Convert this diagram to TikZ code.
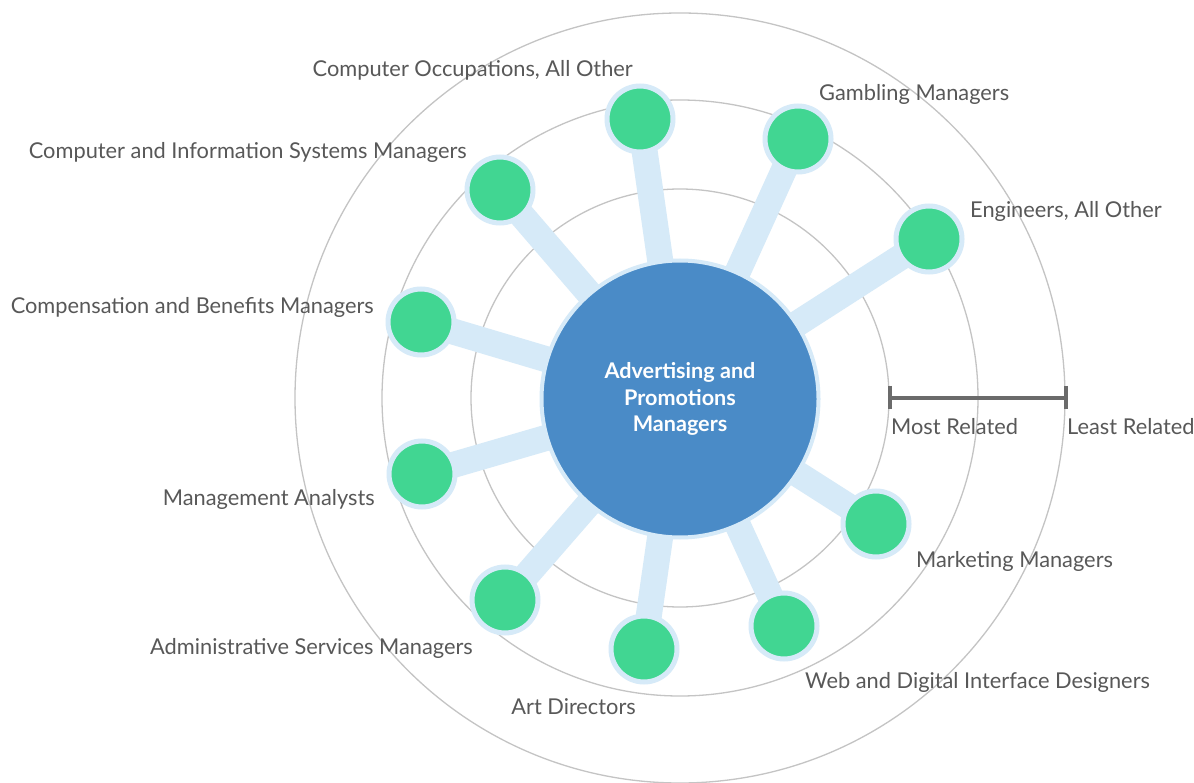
\documentclass[tikz,border=0pt]{standalone}
\usepackage{fontspec}
\setmainfont{Lato}
\usetikzlibrary{backgrounds}
\definecolor{ringgray}{RGB}{196,196,196}
\definecolor{lightblue}{RGB}{214,234,248}
\definecolor{leafgreen}{RGB}{65,214,146}
\definecolor{hubblue}{RGB}{74,139,199}
\definecolor{labelgray}{RGB}{88,88,88}
\definecolor{bargray}{RGB}{107,107,107}
\begin{document}
\begin{tikzpicture}[x=1pt,y=-1pt,
  ring/.style={draw=ringgray, line width=1.3pt},
  spoke/.style={draw=lightblue, line width=26pt},
  leaf/.style={circle, fill=leafgreen, draw=lightblue, line width=5pt, minimum size=66pt, inner sep=0pt},
  hub/.style={circle, fill=hubblue, draw=lightblue, line width=4pt, minimum size=277pt, inner sep=0pt, text=white, font=\bfseries\fontsize{21.6}{26.5}\selectfont, align=center},
  lbl/.style={text=labelgray, font=\fontsize{21.8}{26}\selectfont, inner sep=0pt},
  scalebar/.style={draw=bargray, line width=4.5pt},
  tickmark/.style={draw=bargray, line width=4pt}]
\useasboundingbox (0,0) rectangle (1194,783);
\coordinate (c) at (680,398);
\node[hub] (hub) at (680,399) {Advertising and\\Promotions\\Managers};
\node[leaf] (n1) at (640,119) {};
\node[leaf] (n2) at (798,139) {};
\node[leaf] (n3) at (500,190) {};
\node[leaf] (n4) at (929,239) {};
\node[leaf] (n5) at (421,322) {};
\node[leaf] (n6) at (422,474) {};
\node[leaf] (n7) at (505,600) {};
\node[leaf] (n8) at (644,649) {};
\node[leaf] (n9) at (784,626) {};
\node[leaf] (n10) at (876,524) {};
\begin{scope}[on background layer]
\fill[white] (0,0) rectangle (1194,783);
\draw[ring] (c) circle[radius=209];
\draw[ring] (c) circle[radius=298];
\draw[ring] (c) circle[radius=385];
\foreach \n in {n1,n2,n3,n4,n5,n6,n7,n8,n9,n10}
  \draw[spoke] (hub.center) -- (\n.center);
\end{scope}
\coordinate (mr) at (890,398);
\coordinate (lr) at (1066,398);
\draw[scalebar] (mr) -- (lr);
\draw[tickmark] ([yshift=12pt]mr) -- ([yshift=-11pt]mr);
\draw[tickmark] ([yshift=12pt]lr) -- ([yshift=-11pt]lr);
\node[lbl, anchor=base west] (tmr) at (891,434) {Most Related};
\node[lbl, anchor=base west] (tlr) at (1067,434) {Least Related};
\node[lbl, anchor=base east] (t1) at (633,77) {Computer Occupations, All Other};
\node[lbl, anchor=base west] (t2) at (819,101) {Gambling Managers};
\node[lbl, anchor=base east] (t3) at (467,159) {Computer and Information Systems Managers};
\node[lbl, anchor=base west] (t4) at (970,218) {Engineers, All Other};
\node[lbl, anchor=base east] (t5) at (374,314) {Compensation and Benefits Managers};
\node[lbl, anchor=base east] (t6) at (375,505) {Management Analysts};
\node[lbl, anchor=base east] (t7) at (473,654) {Administrative Services Managers};
\node[lbl, anchor=base east] (t8) at (636,714) {Art Directors};
\node[lbl, anchor=base west] (t9) at (805,688) {Web and Digital Interface Designers};
\node[lbl, anchor=base west] (t10) at (916,567) {Marketing Managers};
\end{tikzpicture}
\end{document}
